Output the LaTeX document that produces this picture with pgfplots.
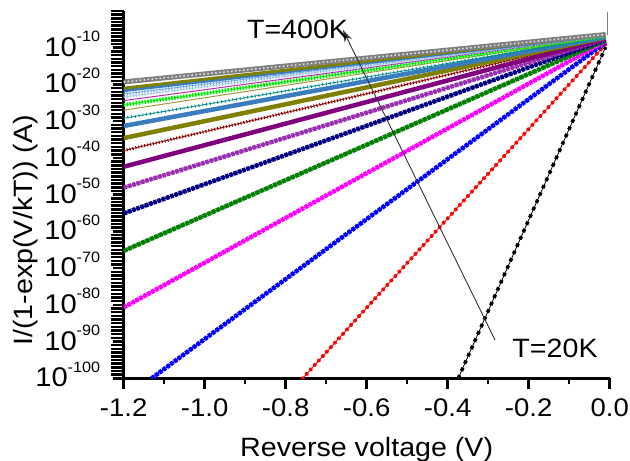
\documentclass[border=0pt]{standalone}
\usepackage{fontspec}
\setmainfont{Liberation Sans}[FakeStretch=1.08]
\usepackage{pgfplots}
\pgfplotsset{compat=1.18}
\usetikzlibrary{arrows.meta}
\newcommand{\tl}[1]{10\raisebox{14.5pt}{\fontsize{15}{15}\selectfont #1}}
\definecolor{cviolet}{HTML}{9B30B0}
\definecolor{cpurple}{HTML}{800080}
\definecolor{cwine}{HTML}{8B0000}
\definecolor{colive}{HTML}{808000}
\definecolor{csteel}{HTML}{3A7CC0}
\definecolor{cteal}{HTML}{008B8B}
\definecolor{ctan}{HTML}{9E9A3C}
\definecolor{clime}{HTML}{00EE00}
\definecolor{cpthin}{HTML}{B030B0}
\definecolor{clight}{HTML}{A8C8E8}
\definecolor{clblue}{HTML}{6FA8DC}
\definecolor{cgray}{HTML}{808080}
\definecolor{cgreen}{HTML}{008000}
\definecolor{cnavy}{HTML}{000080}
\definecolor{cmag}{HTML}{FF00FF}
\begin{document}
\begin{tikzpicture}
\begin{axis}[
  scale only axis,
  width=486pt, height=367.3pt,
  xmin=-1.2, xmax=0,
  ymode=log, log basis y=10,
  ymin=1e-100, ymax=1,
  axis x line*=bottom, axis y line*=left,
  axis line style={line width=2.5pt},
  tick align=outside,
  every tick/.style={black, line width=2.5pt},
  major tick length=11pt,
  minor tick length=12.5pt,
  xtick={-1.2,-1.0,-0.8,-0.6,-0.4,-0.2,0},
  xticklabels={-1.2,-1.0,-0.8,-0.6,-0.4,-0.2,0.0},
  extra x ticks={-1.1,-0.9,-0.7,-0.5,-0.3,-0.1},
  extra x tick labels={},
  extra x tick style={major tick length=6pt},
  ytick={1e-100,1e-90,1e-80,1e-70,1e-60,1e-50,1e-40,1e-30,1e-20,1e-10},
  yticklabels={\tl{-100},\tl{-90},\tl{-80},\tl{-70},\tl{-60},\tl{-50},\tl{-40},\tl{-30},\tl{-20},\tl{-10}},
  minor ytick={1e0,1e-1,1e-2,1e-3,1e-4,1e-5,1e-6,1e-7,1e-8,1e-9,
   1e-11,1e-12,1e-13,1e-14,1e-15,1e-16,1e-17,1e-18,1e-19,
   1e-21,1e-22,1e-23,1e-24,1e-25,1e-26,1e-27,1e-28,1e-29,
   1e-31,1e-32,1e-33,1e-34,1e-35,1e-36,1e-37,1e-38,1e-39,
   1e-41,1e-42,1e-43,1e-44,1e-45,1e-46,1e-47,1e-48,1e-49,
   1e-51,1e-52,1e-53,1e-54,1e-55,1e-56,1e-57,1e-58,1e-59,
   1e-61,1e-62,1e-63,1e-64,1e-65,1e-66,1e-67,1e-68,1e-69,
   1e-71,1e-72,1e-73,1e-74,1e-75,1e-76,1e-77,1e-78,1e-79,
   1e-81,1e-82,1e-83,1e-84,1e-85,1e-86,1e-87,1e-88,1e-89,
   1e-91,1e-92,1e-93,1e-94,1e-95,1e-96,1e-97,1e-98,1e-99},
  xticklabel style={font=\fontsize{25.5}{28}\selectfont, yshift=-6pt},
  yticklabel style={font=\fontsize{27}{28}\selectfont, anchor=base east, yshift=-8.5pt, xshift=-9pt},
  every axis x label/.style={at={(axis description cs:0.5,-0.212)}, anchor=base, font=\fontsize{26.5}{30}\selectfont},
  every axis y label/.style={at={(axis description cs:-0.188,0.403)}, rotate=90, anchor=base, font=\fontsize{26.5}{30}\selectfont},
  xlabel={Reverse voltage (V)},
  ylabel={I/(1-exp(V/kT)) (A)},
]
% 20K
\addplot[black, line width=0.8pt, postaction={draw=black, line width=3.5pt, dash pattern=on 3.5pt off 4.5pt}] coordinates {(-0.374,1e-100) (-0.01,1.58e-10)};
% 40K
\addplot[red, line width=0.8pt, postaction={draw=red, line width=4pt, line cap=round, dash pattern=on 0pt off 6pt}] coordinates {(-0.758,1e-100) (-0.01,1e-9)};
% 60K
\addplot[blue, line width=1.5pt, postaction={draw=blue, line width=4.5pt, dash pattern=on 3.5pt off 1.2pt}] coordinates {(-1.131,1e-100) (-0.01,3.16e-9)};
% 80K
\addplot[cmag, line width=1.5pt, postaction={draw=cmag, line width=4.5pt, dash pattern=on 3.5pt off 1pt}] coordinates {(-1.2,2.0e-81) (-0.01,6.31e-9)};
% 100K
\addplot[cgreen, line width=1.5pt, postaction={draw=cgreen, line width=4.5pt, dash pattern=on 4pt off 0.8pt}] coordinates {(-1.2,5.01e-66) (-0.01,1e-8)};
% 120K
\addplot[cnavy, line width=1.5pt, postaction={draw=cnavy, line width=4.5pt, dash pattern=on 3.5pt off 1pt}] coordinates {(-1.2,7.94e-56) (-0.01,1.58e-8)};
% 140K
\addplot[cviolet, line width=1.5pt, postaction={draw=cviolet, line width=4.5pt, dash pattern=on 3.5pt off 1pt}] coordinates {(-1.2,7.94e-49) (-0.01,2.51e-8)};
% 160K
\addplot[cpurple, line width=4.5pt] coordinates {(-1.2,3.98e-43) (-0.01,3.55e-8)};
% 180K
\addplot[cwine, line width=0.8pt, postaction={draw=cwine, line width=3pt, dash pattern=on 1pt off 2pt}] coordinates {(-1.2,1e-38) (-0.01,5.01e-8)};
% 200K
\addplot[colive, line width=4.5pt] coordinates {(-1.2,2.51e-35) (-0.01,6.31e-8)};
% 220K
\addplot[csteel, line width=4.5pt] coordinates {(-1.2,5.01e-32) (-0.01,7.94e-8)};
% 240K
\addplot[cteal, line width=0.8pt, postaction={draw=cteal, line width=3pt, dash pattern=on 0.8pt off 3pt}] coordinates {(-1.2,6.31e-30) (-0.01,1e-7)};
% 260K
\addplot[ctan, line width=1pt] coordinates {(-1.2,1e-27) (-0.01,1.26e-7)};
% 280K
\addplot[clime, line width=0.8pt, postaction={draw=clime, line width=4pt, dash pattern=on 1.5pt off 1.5pt}] coordinates {(-1.2,2.51e-26) (-0.01,1.58e-7)};
% 300K
\addplot[cpthin, line width=1pt] coordinates {(-1.2,3.98e-25) (-0.01,1.78e-7)};
% 320K
\addplot[clight, line width=0.8pt, postaction={draw=clight, line width=3pt, dash pattern=on 1pt off 2pt}] coordinates {(-1.2,3.98e-24) (-0.01,2.0e-7)};
% 340K
\addplot[clblue, line width=0.8pt, postaction={draw=clblue, line width=3pt, dash pattern=on 1pt off 2pt}] coordinates {(-1.2,2.51e-23) (-0.01,2.51e-7)};
% 360K
\addplot[csteel, line width=3.5pt] coordinates {(-1.2,2.51e-22) (-0.01,3.16e-7)};
% 380K
\addplot[colive, line width=3pt] coordinates {(-1.2,1e-21) (-0.01,3.55e-7)};
% 400K
\addplot[cgray, line width=5pt, postaction={draw=white!80!cgray, line width=1.5pt, dash pattern=on 1.5pt off 2.5pt}] coordinates {(-1.2,5.01e-20) (-0.01,3.98e-7)};
\addplot[cgray, line width=1.5pt] coordinates {(-0.006,3.98e-7) (-0.006,0.5)};
\draw[line width=0.9pt, black!80, -{Stealth[length=12pt,width=8pt]}] (axis cs:-0.2832,2.69e-90) -- (axis cs:-0.6585,6.76e-6);
\node[anchor=base west, inner sep=0pt, font=\fontsize{26.5}{30}\selectfont] at (axis cs:-0.896,2.5e-8) {T=400K};
\node[anchor=base west, inner sep=0pt, font=\fontsize{26.5}{30}\selectfont] at (axis cs:-0.2405,5.0e-95) {T=20K};
\end{axis}
\pgfresetboundingbox
\path (-123.7pt,-82.7pt) rectangle (506.3pt,378.3pt);
\end{tikzpicture}
\end{document}
